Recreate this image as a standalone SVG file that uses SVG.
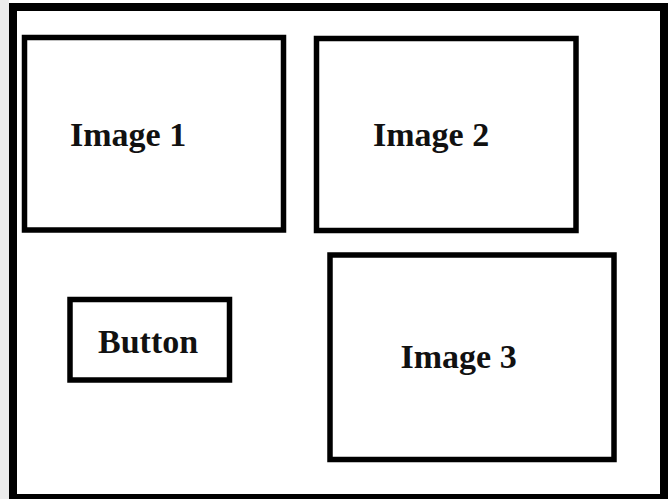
<svg xmlns="http://www.w3.org/2000/svg" width="668" height="499" viewBox="0 0 668 499">
<style>
.box{fill:none;stroke:#000;stroke-width:5.5}
.lbl{font-family:"Liberation Serif","Times New Roman",serif;font-weight:bold;font-size:34px;fill:#111}
</style>
<rect x="0" y="0" width="668" height="499" fill="#fff"/>
<rect x="0" y="0" width="9" height="499" fill="#ececec"/>
<g id="frame"><rect x="13" y="7" width="651" height="491" fill="none" stroke="#000" stroke-width="8"/></g>
<g id="image1"><rect class="box" x="24.5" y="37.5" width="259" height="192.5"/><text class="lbl" x="70" y="146">Image 1</text></g>
<g id="image2"><rect class="box" x="316.5" y="38.5" width="259.5" height="192"/><text class="lbl" x="373" y="146">Image 2</text></g>
<g id="button"><rect class="box" x="70" y="299.5" width="159.5" height="80.5"/><text class="lbl" x="98" y="353">Button</text></g>
<g id="image3"><rect class="box" x="330" y="255" width="284" height="204.5"/><text class="lbl" x="400.5" y="368">Image 3</text></g>
<g id="connectors"></g>
</svg>
